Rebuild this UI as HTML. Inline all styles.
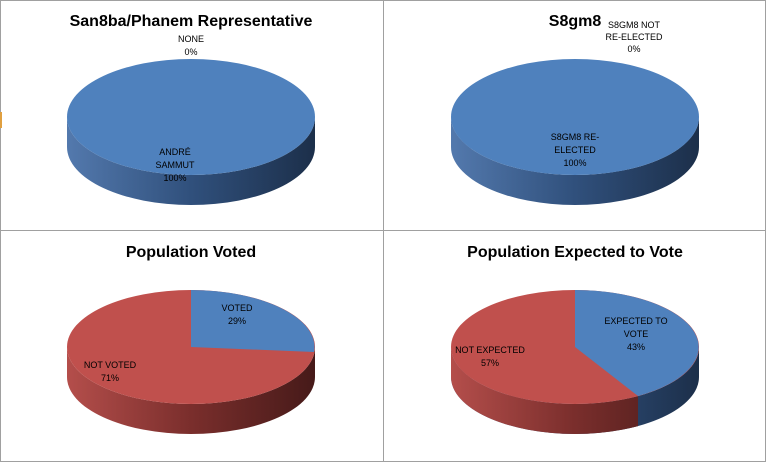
<!DOCTYPE html>
<html><head><meta charset="utf-8"><style>
html,body{margin:0;padding:0;background:#fff}
svg{display:block}
text{font-family:"Liberation Sans",sans-serif}
.t{font-weight:bold;font-size:16px;fill:#000}
.l{font-size:9px;fill:#000}
</style></head><body>
<svg width="766" height="462" viewBox="0 0 766 462">
<defs>
<linearGradient id="gb" x1="0" x2="1" y1="0" y2="0">
<stop offset="0" stop-color="#5379ad"/><stop offset="0.5" stop-color="#30507c"/><stop offset="1" stop-color="#1c2f4a"/></linearGradient>
<linearGradient id="gr" x1="0" x2="1" y1="0" y2="0">
<stop offset="0" stop-color="#b44e4b"/><stop offset="0.5" stop-color="#7a2e2c"/><stop offset="1" stop-color="#461a19"/></linearGradient>
<clipPath id="cl1"><rect x="0" y="0" width="638" height="462"/></clipPath>
</defs>
<rect x="0.5" y="0.5" width="765" height="461" fill="#fff" stroke="#a0a0a0"/>
<line x1="0" y1="230.5" x2="766" y2="230.5" stroke="#a0a0a0"/>
<line x1="383.5" y1="0" x2="383.5" y2="462" stroke="#a0a0a0"/>
<rect x="0" y="112" width="2" height="16" fill="#e0a040"/>

<!-- TL -->
<text class="t" x="191" y="26" text-anchor="middle">San8ba/Phanem  Representative</text>
<path d="M67,117 A124,58 0 0 0 315,117 L315,147 A124,58 0 0 1 67,147 Z" fill="url(#gb)"/>
<ellipse cx="191" cy="117" rx="124" ry="58" fill="#4f81bd"/>
<text class="l" x="191" y="42" text-anchor="middle">NONE</text>
<text class="l" x="191" y="55" text-anchor="middle">0%</text>
<text class="l" x="175" y="155" text-anchor="middle">ANDRÉ</text>
<text class="l" x="175" y="168" text-anchor="middle">SAMMUT</text>
<text class="l" x="175" y="181" text-anchor="middle">100%</text>

<!-- TR -->
<text class="t" x="575" y="26" text-anchor="middle">S8gm8</text>
<path d="M451,117 A124,58 0 0 0 699,117 L699,147 A124,58 0 0 1 451,147 Z" fill="url(#gb)"/>
<ellipse cx="575" cy="117" rx="124" ry="58" fill="#4f81bd"/>
<text class="l" x="634" y="28" text-anchor="middle">S8GM8 NOT</text>
<text class="l" x="634" y="40" text-anchor="middle">RE-ELECTED</text>
<text class="l" x="634" y="52" text-anchor="middle">0%</text>
<text class="l" x="575" y="140" text-anchor="middle">S8GM8 RE-</text>
<text class="l" x="575" y="153" text-anchor="middle">ELECTED</text>
<text class="l" x="575" y="166" text-anchor="middle">100%</text>

<!-- BL -->
<text class="t" x="191" y="257" text-anchor="middle">Population Voted</text>
<path d="M67,347 A124,57 0 0 0 315,347 L315,377 A124,57 0 0 1 67,377 Z" fill="url(#gr)"/>
<ellipse cx="191" cy="347" rx="124" ry="57" fill="#c0504d"/>
<path d="M191,347 L191,290 A124,57 0 0 1 314,352 Z" fill="#4f81bd"/>
<text class="l" x="237" y="311" text-anchor="middle">VOTED</text>
<text class="l" x="237" y="324" text-anchor="middle">29%</text>
<text class="l" x="110" y="368" text-anchor="middle">NOT VOTED</text>
<text class="l" x="110" y="381" text-anchor="middle">71%</text>

<!-- BR -->
<text class="t" x="575" y="257" text-anchor="middle">Population Expected to Vote</text>
<path d="M451,347 A124,57 0 0 0 699,347 L699,377 A124,57 0 0 1 451,377 Z" fill="url(#gb)"/>
<path d="M451,347 A124,57 0 0 0 699,347 L699,377 A124,57 0 0 1 451,377 Z" fill="url(#gr)" clip-path="url(#cl1)"/>
<ellipse cx="575" cy="347" rx="124" ry="57" fill="#c0504d"/>
<path d="M575,347 L575,290 A124,57 0 0 1 638,396 Z" fill="#4f81bd"/>
<text class="l" x="636" y="324" text-anchor="middle">EXPECTED TO</text>
<text class="l" x="636" y="337" text-anchor="middle">VOTE</text>
<text class="l" x="636" y="350" text-anchor="middle">43%</text>
<text class="l" x="490" y="353" text-anchor="middle">NOT EXPECTED</text>
<text class="l" x="490" y="366" text-anchor="middle">57%</text>
</svg>
</body></html>
